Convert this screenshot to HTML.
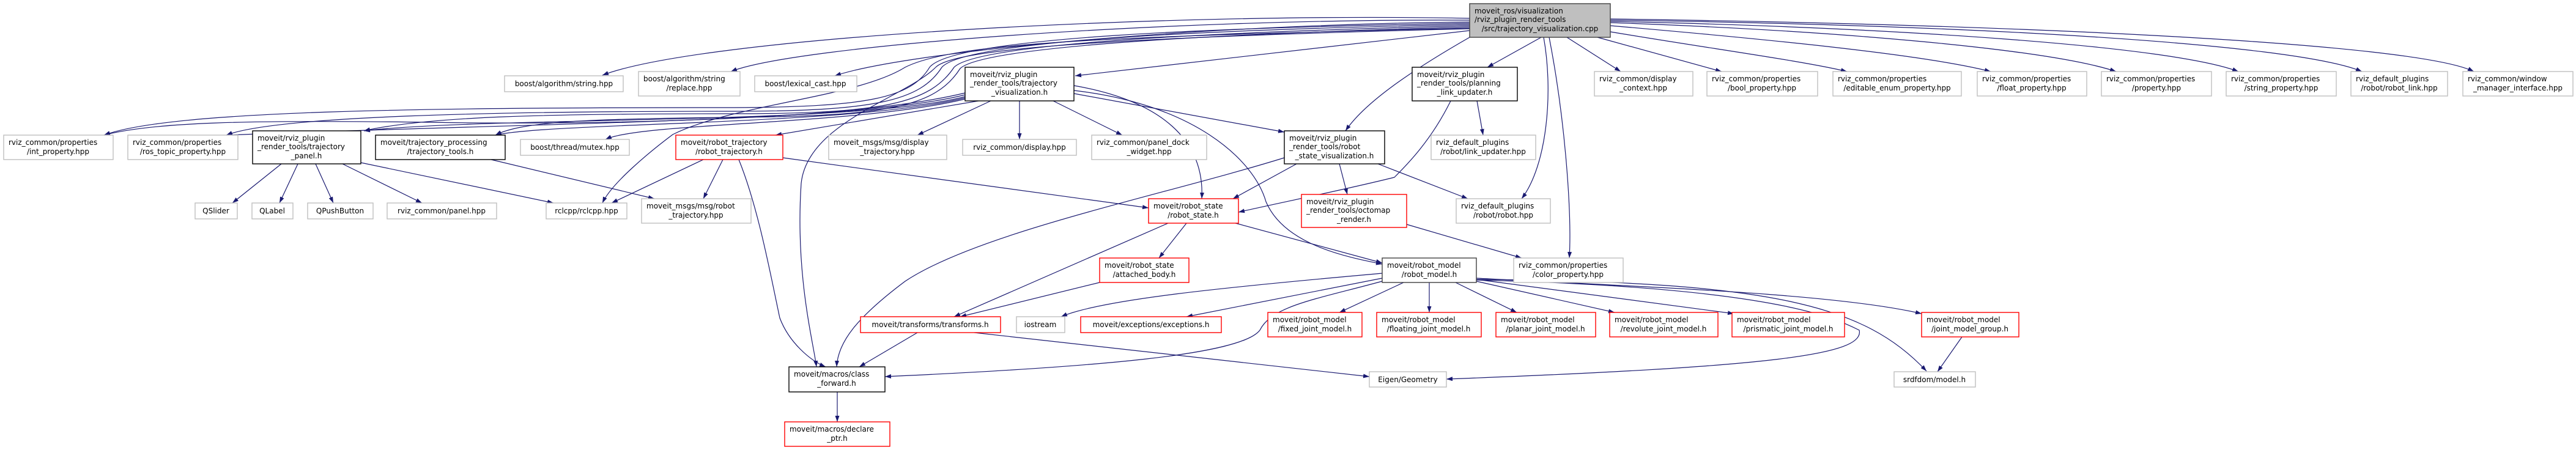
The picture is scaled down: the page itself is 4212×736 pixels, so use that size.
<!DOCTYPE html>
<html><head><meta charset="utf-8"><style>
html,body{margin:0;padding:0;background:#fff;}
svg{display:block;}
text{font-family:"DejaVu Sans","Liberation Sans",sans-serif;font-size:12px;fill:#000;}
.g{fill:#fff;stroke:#bfbfbf;stroke-width:1.4}
.b{fill:#fff;stroke:#000;stroke-width:1.4}
.r{fill:#fff;stroke:#ff0000;stroke-width:1.4}
.m{fill:#bfbfbf;stroke:#404040;stroke-width:1.4}
.e{fill:none;stroke:#191970;stroke-width:1.2}
</style></head><body>
<svg width="4212" height="736" viewBox="0 0 4212 736" xmlns="http://www.w3.org/2000/svg">
<defs><marker id="a" markerWidth="10" markerHeight="7" refX="10" refY="3.5" orient="auto" markerUnits="userSpaceOnUse"><path d="M0,0 L10,3.5 L0,7 z" fill="#191970"/></marker></defs>
<g class="e" marker-end="url(#a)">
<path d="M2403,30 C1900,20 1150,60 985,123"/>
<path d="M2403,33 C1900,30 1300,75 1195,117"/>
<path d="M2403,36 C1950,40 1480,85 1365,124"/>
<path d="M2403,50 L1758,124"/>
<path d="M2403,38 C2000,45 1560,60 1520,110 C1490,160 1420,175 1200,176 C700,176 280,180 170,221"/>
<path d="M2403,40 C2000,48 1580,65 1540,110 C1505,165 1430,182 1200,182 C800,182 450,190 370,221"/>
<path d="M2403,42 C2000,52 1600,70 1560,110 C1520,170 1440,186 1200,186 C900,186 700,190 595,214"/>
<path d="M2403,44 C2000,55 1610,75 1570,112 C1530,175 1450,190 1200,192 C950,194 850,200 810,221"/>
<path d="M1578,152 C1400,195 1000,205 700,200 C400,196 250,200 170,221"/>
<path d="M1578,155 C1400,200 900,200 370,221"/>
<path d="M1578,158 C1400,205 800,190 595,214"/>
<path d="M1578,160 C1400,205 900,200 810,221"/>
<path d="M1578,162 C1400,205 1050,200 990,228"/>
<path d="M2403,46 C1800,60 1560,70 1480,110 C1400,160 1200,170 1100,220 C1060,250 1000,300 985,332"/>
<path d="M2403,47 C1800,62 1560,80 1530,110 C1480,160 1320,200 1310,300 C1300,450 1330,560 1335,600"/>
<path d="M1600,165 L1268,221"/>
<path d="M1620,165 L1500,221"/>
<path d="M1667,165 L1667,228"/>
<path d="M1722,165 L1835,221"/>
<path d="M1756,153 L2100,216"/>
<path d="M1756,140 C1900,165 1970,230 1965,325"/>
<path d="M1756,148 C1950,170 2050,260 2070,330 C2100,400 2200,420 2260,432"/>
<path d="M1208,261 C1240,340 1260,450 1275,520 C1290,560 1325,590 1350,600"/>
<path d="M1150,261 L1000,332"/>
<path d="M1182,261 L1150,325"/>
<path d="M1280,258 L1878,340"/>
<path d="M2100,258 C1900,320 1600,380 1480,460 C1400,520 1370,560 1368,600"/>
<path d="M460,268 L380,332"/>
<path d="M487,268 L457,332"/>
<path d="M516,268 L545,332"/>
<path d="M560,268 L690,332"/>
<path d="M590,266 L905,332"/>
<path d="M803,261 L1070,325"/>
<path d="M2120,268 L2016,325"/>
<path d="M2190,268 L2203,318"/>
<path d="M2253,268 L2400,325"/>
<path d="M2415,165 L2425,221"/>
<path d="M2372,165 C2340,230 2300,270 2280,290 C2200,310 2100,330 2025,347"/>
<path d="M2520,61 L2432,110"/>
<path d="M2403,61 C2300,120 2230,170 2200,214"/>
<path d="M2524,61 C2540,150 2530,270 2488,325"/>
<path d="M2533,61 C2560,200 2570,350 2566,422"/>
<path d="M2562,61 L2650,117"/>
<path d="M2612,61 L2815,117"/>
<path d="M2633,52 C2800,80 2950,100 3020,117"/>
<path d="M2633,42 C2900,65 3150,90 3255,117"/>
<path d="M2633,37 C3000,50 3350,80 3460,117"/>
<path d="M2633,35 C3100,45 3550,75 3660,117"/>
<path d="M2633,33 C3200,40 3750,70 3862,117"/>
<path d="M2633,31 C3300,40 3950,70 4045,117"/>
<path d="M2020,365 L2260,430"/>
<path d="M2300,367 L2488,422"/>
<path d="M1940,365 L1895,422"/>
<path d="M1910,365 L1560,518"/>
<path d="M1798,462 L1570,518"/>
<path d="M1500,544 L1405,600"/>
<path d="M1593,544 L2239,616"/>
<path d="M1369,641 L1369,690"/>
<path d="M2260,447 C2000,470 1800,490 1735,518"/>
<path d="M2260,455 L1940,518"/>
<path d="M2260,460 C2150,490 2080,500 2060,540 C2030,580 1800,600 1447,616"/>
<path d="M2295,462 L2190,511"/>
<path d="M2337,462 L2337,511"/>
<path d="M2380,462 L2480,511"/>
<path d="M2414,460 L2640,511"/>
<path d="M2414,457 L2835,513"/>
<path d="M2414,455 C2700,470 3000,480 3142,513"/>
<path d="M2414,457 C2900,460 3050,500 3150,607"/>
<path d="M2414,458 C2900,470 3000,520 3040,540 C3050,580 2900,600 2365,620"/>
<path d="M3208,551 L3168,608"/>
</g>
<g>
<rect class="m" x="2403" y="6" width="230" height="55"/><text x="2411" y="22">moveit_ros/visualization</text><text x="2411" y="36">/rviz_plugin_render_tools</text><text x="2518" y="51" text-anchor="middle">/src/trajectory_visualization.cpp</text>
<rect class="g" x="825" y="124" width="194" height="26"/><text x="922" y="141" text-anchor="middle">boost/algorithm/string.hpp</text>
<rect class="g" x="1044" y="117" width="166" height="40"/><text x="1052" y="133">boost/algorithm/string</text><text x="1127" y="148" text-anchor="middle">/replace.hpp</text>
<rect class="g" x="1234" y="124" width="167" height="26"/><text x="1317" y="141" text-anchor="middle">boost/lexical_cast.hpp</text>
<rect class="b" x="1578" y="110" width="178" height="55"/><text x="1586" y="126">moveit/rviz_plugin</text><text x="1586" y="140">_render_tools/trajectory</text><text x="1667" y="155" text-anchor="middle">_visualization.h</text>
<rect class="b" x="2309" y="110" width="172" height="55"/><text x="2317" y="126">moveit/rviz_plugin</text><text x="2317" y="140">_render_tools/planning</text><text x="2395" y="155" text-anchor="middle">_link_updater.h</text>
<rect class="g" x="2607" y="117" width="161" height="40"/><text x="2615" y="133">rviz_common/display</text><text x="2687" y="148" text-anchor="middle">_context.hpp</text>
<rect class="g" x="2791" y="117" width="181" height="40"/><text x="2799" y="133">rviz_common/properties</text><text x="2881" y="148" text-anchor="middle">/bool_property.hpp</text>
<rect class="g" x="2997" y="117" width="210" height="40"/><text x="3005" y="133">rviz_common/properties</text><text x="3102" y="148" text-anchor="middle">/editable_enum_property.hpp</text>
<rect class="g" x="3233" y="117" width="179" height="40"/><text x="3241" y="133">rviz_common/properties</text><text x="3322" y="148" text-anchor="middle">/float_property.hpp</text>
<rect class="g" x="3436" y="117" width="180" height="40"/><text x="3444" y="133">rviz_common/properties</text><text x="3526" y="148" text-anchor="middle">/property.hpp</text>
<rect class="g" x="3640" y="117" width="180" height="40"/><text x="3648" y="133">rviz_common/properties</text><text x="3730" y="148" text-anchor="middle">/string_property.hpp</text>
<rect class="g" x="3844" y="117" width="158" height="40"/><text x="3852" y="133">rviz_default_plugins</text><text x="3923" y="148" text-anchor="middle">/robot/robot_link.hpp</text>
<rect class="g" x="4027" y="117" width="180" height="40"/><text x="4035" y="133">rviz_common/window</text><text x="4117" y="148" text-anchor="middle">_manager_interface.hpp</text>
<rect class="g" x="6" y="221" width="179" height="40"/><text x="14" y="237">rviz_common/properties</text><text x="95" y="252" text-anchor="middle">/int_property.hpp</text>
<rect class="g" x="209" y="221" width="180" height="40"/><text x="217" y="237">rviz_common/properties</text><text x="299" y="252" text-anchor="middle">/ros_topic_property.hpp</text>
<rect class="b" x="413" y="214" width="177" height="54"/><text x="421" y="230">moveit/rviz_plugin</text><text x="421" y="244">_render_tools/trajectory</text><text x="501" y="259" text-anchor="middle">_panel.h</text>
<rect class="b" x="614" y="221" width="212" height="40"/><text x="622" y="237">moveit/trajectory_processing</text><text x="720" y="252" text-anchor="middle">/trajectory_tools.h</text>
<rect class="g" x="851" y="228" width="178" height="26"/><text x="940" y="245" text-anchor="middle">boost/thread/mutex.hpp</text>
<rect class="r" x="1105" y="221" width="175" height="40"/><text x="1113" y="237">moveit/robot_trajectory</text><text x="1192" y="252" text-anchor="middle">/robot_trajectory.h</text>
<rect class="g" x="1355" y="221" width="193" height="40"/><text x="1363" y="237">moveit_msgs/msg/display</text><text x="1451" y="252" text-anchor="middle">_trajectory.hpp</text>
<rect class="g" x="1574" y="228" width="186" height="26"/><text x="1667" y="245" text-anchor="middle">rviz_common/display.hpp</text>
<rect class="g" x="1785" y="221" width="188" height="40"/><text x="1793" y="237">rviz_common/panel_dock</text><text x="1879" y="252" text-anchor="middle">_widget.hpp</text>
<rect class="b" x="2100" y="214" width="164" height="54"/><text x="2108" y="230">moveit/rviz_plugin</text><text x="2108" y="244">_render_tools/robot</text><text x="2182" y="259" text-anchor="middle">_state_visualization.h</text>
<rect class="g" x="2340" y="221" width="171" height="40"/><text x="2348" y="237">rviz_default_plugins</text><text x="2425" y="252" text-anchor="middle">/robot/link_updater.hpp</text>
<rect class="g" x="319" y="332" width="69" height="26"/><text x="353" y="349" text-anchor="middle">QSlider</text>
<rect class="g" x="412" y="332" width="67" height="26"/><text x="445" y="349" text-anchor="middle">QLabel</text>
<rect class="g" x="503" y="332" width="107" height="26"/><text x="556" y="349" text-anchor="middle">QPushButton</text>
<rect class="g" x="633" y="332" width="179" height="26"/><text x="722" y="349" text-anchor="middle">rviz_common/panel.hpp</text>
<rect class="g" x="893" y="332" width="132" height="26"/><text x="959" y="349" text-anchor="middle">rclcpp/rclcpp.hpp</text>
<rect class="g" x="1049" y="325" width="179" height="40"/><text x="1057" y="341">moveit_msgs/msg/robot</text><text x="1138" y="356" text-anchor="middle">_trajectory.hpp</text>
<rect class="r" x="1878" y="325" width="147" height="40"/><text x="1886" y="341">moveit/robot_state</text><text x="1951" y="356" text-anchor="middle">/robot_state.h</text>
<rect class="r" x="2128" y="318" width="172" height="54"/><text x="2136" y="334">moveit/rviz_plugin</text><text x="2136" y="348">_render_tools/octomap</text><text x="2214" y="363" text-anchor="middle">_render.h</text>
<rect class="g" x="2381" y="325" width="154" height="40"/><text x="2389" y="341">rviz_default_plugins</text><text x="2458" y="356" text-anchor="middle">/robot/robot.hpp</text>
<rect class="r" x="1798" y="422" width="146" height="40"/><text x="1806" y="438">moveit/robot_state</text><text x="1871" y="453" text-anchor="middle">/attached_body.h</text>
<rect class="b" x="2260" y="422" width="154" height="40" style="stroke:#404040"/><text x="2268" y="438">moveit/robot_model</text><text x="2337" y="453" text-anchor="middle">/robot_model.h</text>
<rect class="g" x="2475" y="422" width="179" height="40"/><text x="2483" y="438">rviz_common/properties</text><text x="2564" y="453" text-anchor="middle">/color_property.hpp</text>
<rect class="r" x="1407" y="518" width="229" height="26"/><text x="1521" y="535" text-anchor="middle">moveit/transforms/transforms.h</text>
<rect class="g" x="1662" y="518" width="79" height="26"/><text x="1701" y="535" text-anchor="middle">iostream</text>
<rect class="r" x="1767" y="518" width="230" height="26"/><text x="1882" y="535" text-anchor="middle">moveit/exceptions/exceptions.h</text>
<rect class="r" x="2073" y="511" width="154" height="40"/><text x="2081" y="527">moveit/robot_model</text><text x="2150" y="542" text-anchor="middle">/fixed_joint_model.h</text>
<rect class="r" x="2251" y="511" width="171" height="40"/><text x="2259" y="527">moveit/robot_model</text><text x="2336" y="542" text-anchor="middle">/floating_joint_model.h</text>
<rect class="r" x="2446" y="511" width="163" height="40"/><text x="2454" y="527">moveit/robot_model</text><text x="2527" y="542" text-anchor="middle">/planar_joint_model.h</text>
<rect class="r" x="2632" y="511" width="177" height="40"/><text x="2640" y="527">moveit/robot_model</text><text x="2720" y="542" text-anchor="middle">/revolute_joint_model.h</text>
<rect class="r" x="2832" y="511" width="184" height="40"/><text x="2840" y="527">moveit/robot_model</text><text x="2924" y="542" text-anchor="middle">/prismatic_joint_model.h</text>
<rect class="r" x="3142" y="511" width="159" height="40"/><text x="3150" y="527">moveit/robot_model</text><text x="3221" y="542" text-anchor="middle">/joint_model_group.h</text>
<rect class="b" x="1290" y="600" width="157" height="41"/><text x="1298" y="616">moveit/macros/class</text><text x="1368" y="631" text-anchor="middle">_forward.h</text>
<rect class="g" x="2239" y="608" width="126" height="25"/><text x="2302" y="625" text-anchor="middle">Eigen/Geometry</text>
<rect class="g" x="3097" y="608" width="133" height="25"/><text x="3163" y="625" text-anchor="middle">srdfdom/model.h</text>
<rect class="r" x="1283" y="690" width="172" height="40"/><text x="1291" y="706">moveit/macros/declare</text><text x="1369" y="721" text-anchor="middle">_ptr.h</text>
</g>
</svg>
</body></html>
